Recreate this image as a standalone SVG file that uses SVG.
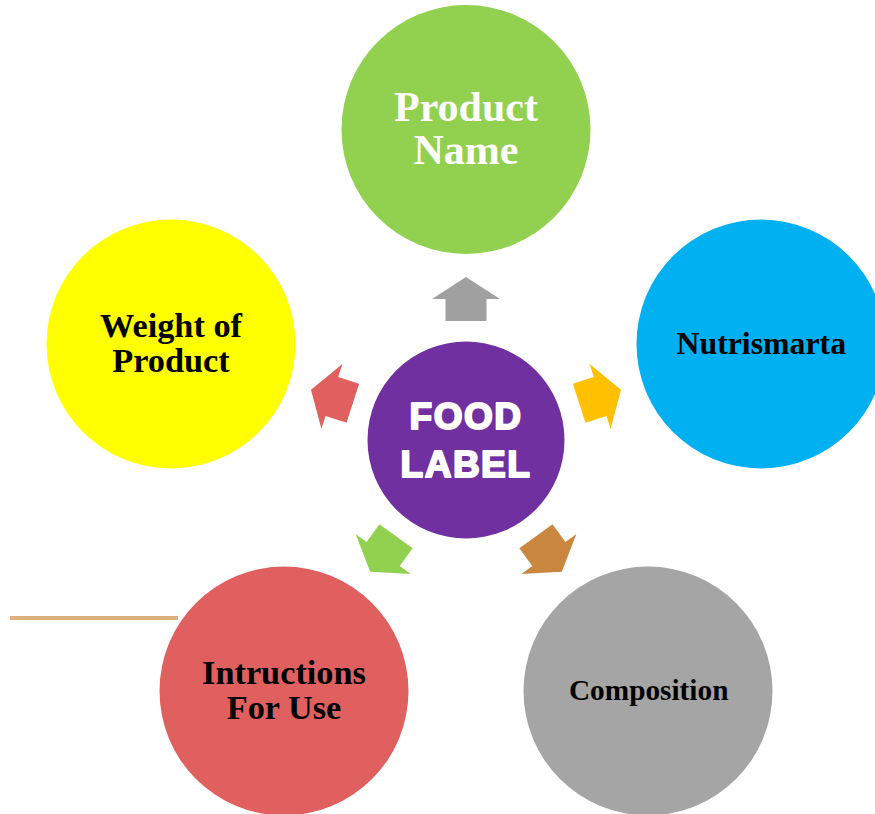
<svg xmlns="http://www.w3.org/2000/svg" width="875" height="814" viewBox="0 0 875 814">
<style>
.lbl{font-family:"Liberation Serif","Times New Roman",serif;font-weight:bold;text-anchor:middle}
.dark{fill:#000000}
.light{fill:#FFFFFF}
.hub{font-family:"Liberation Sans",Arial,sans-serif;font-weight:bold;font-size:37px;fill:#FFFFFF;stroke:#FFFFFF;stroke-width:2;stroke-linejoin:round;letter-spacing:1.5px;text-anchor:middle}
</style>
<defs>
<path id="arr" d="M0,-163 L34,-141 L20.5,-141 L20.5,-119 L-20.5,-119 L-20.5,-141 L-34,-141 Z"/>
</defs>
<rect width="875" height="814" fill="#FFFFFF"/>
<line x1="10" y1="618" x2="178" y2="618" stroke="#DDAF7E" stroke-width="4"/>
<g id="connectors">
<use href="#arr" transform="translate(466,440)" fill="#A0A0A0"/>
<use href="#arr" transform="translate(466,440) rotate(72)" fill="#FFC000"/>
<use href="#arr" transform="translate(466,440) rotate(144)" fill="#C9873F"/>
<use href="#arr" transform="translate(466,440) rotate(216)" fill="#92D050"/>
<use href="#arr" transform="translate(466,440) rotate(288)" fill="#E06060"/>
</g>
<g id="node-product-name">
<circle cx="466" cy="129.5" r="124.5" fill="#92D050"/>
<text class="lbl light" font-size="42" x="466" y="121">Product</text>
<text class="lbl light" font-size="42" x="466" y="164">Name</text>
</g>
<g id="node-nutrismarta">
<circle cx="761" cy="344" r="124.5" fill="#00B0F0"/>
<text class="lbl dark" font-size="31.8" x="761.3" y="354">Nutrismarta</text>
</g>
<g id="node-composition">
<circle cx="648" cy="691" r="124.5" fill="#A5A5A5"/>
<text class="lbl dark" font-size="29.3" x="648.7" y="700">Composition</text>
</g>
<g id="node-instructions">
<circle cx="284" cy="691" r="124.5" fill="#E06060"/>
<text class="lbl dark" font-size="34.3" x="284" y="684">Intructions</text>
<text class="lbl dark" font-size="34.3" x="284" y="718.7">For Use</text>
</g>
<g id="node-weight">
<circle cx="171" cy="344" r="124.5" fill="#FFFF00"/>
<text class="lbl dark" font-size="34.3" x="171" y="336.7">Weight of</text>
<text class="lbl dark" font-size="34.3" x="171" y="371.7">Product</text>
</g>
<g id="node-food-label">
<circle cx="466" cy="440" r="98.5" fill="#7030A0"/>
<text class="hub" x="466" y="429">FOOD</text>
<text class="hub" x="466" y="477">LABEL</text>
</g>
</svg>
